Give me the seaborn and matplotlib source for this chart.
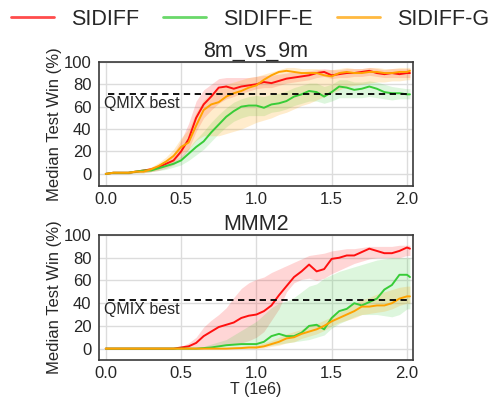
import matplotlib
matplotlib.use("Agg")
import matplotlib.pyplot as plt
import seaborn as sns
import pandas as pd
from matplotlib.lines import Line2D

# ---------------- data ----------------
T = [0.0, 0.05, 0.1, 0.15, 0.2, 0.25, 0.3, 0.35, 0.4, 0.45, 0.5, 0.55, 0.6, 0.65,
     0.7, 0.75, 0.8, 0.85, 0.9, 0.95, 1.0, 1.05, 1.1, 1.15, 1.2, 1.25, 1.3, 1.35,
     1.4, 1.45, 1.5, 1.55, 1.6, 1.65, 1.7, 1.75, 1.8, 1.85, 1.9, 1.95, 2.0, 2.02]

methods = ["SIDIFF", "SIDIFF-E", "SIDIFF-G"]
maps = ["8m_vs_9m", "MMM2"]
qmix_best = [71, 43]

# 8m_vs_9m
sidiff_8m = [0, 1, 1, 1, 2, 3, 4, 6, 9, 12, 20, 31, 50, 62, 69, 77, 78, 76, 78, 79, 80, 82, 81, 83,
             85, 86, 87, 88, 90, 91, 88, 89, 90, 90, 91, 92, 90, 89, 90, 89, 90, 90]
sidiff_8m_lo = [0, 0, 0, 0, 1, 1, 2, 3, 5, 8, 13, 22, 38, 50, 57, 63, 67, 69, 72, 74, 76, 77, 77, 79,
                81, 82, 83, 84, 86, 87, 85, 86, 86, 87, 87, 88, 87, 86, 86, 86, 86, 86]
sidiff_8m_hi = [1, 2, 2, 2, 3, 4, 6, 8, 12, 18, 30, 45, 65, 75, 80, 85, 86, 86, 86, 86, 87, 88, 88, 89,
                90, 91, 91, 92, 93, 94, 93, 93, 94, 94, 94, 95, 94, 93, 94, 94, 94, 94]

sidiffE_8m = [0, 1, 1, 1, 2, 3, 3, 5, 7, 9, 12, 18, 24, 29, 37, 44, 51, 56, 60, 61, 61, 59, 62, 63,
              65, 69, 71, 74, 73, 69, 73, 78, 77, 75, 76, 78, 76, 73, 72, 72, 71, 71]
sidiffE_8m_lo = [0, 0, 0, 0, 1, 1, 2, 3, 4, 6, 8, 12, 17, 22, 29, 36, 42, 47, 50, 52, 52, 52, 55, 56,
                 58, 61, 63, 65, 65, 63, 65, 68, 68, 68, 68, 69, 68, 67, 66, 67, 67, 67]
sidiffE_8m_hi = [1, 2, 2, 2, 3, 4, 5, 7, 9, 12, 16, 23, 31, 38, 46, 53, 59, 64, 67, 69, 70, 69, 71, 72,
                 74, 77, 79, 81, 81, 78, 80, 84, 84, 82, 82, 83, 82, 80, 78, 77, 76, 76]

sidiffG_8m = [0, 1, 1, 1, 2, 2, 4, 7, 11, 16, 24, 28, 43, 57, 62, 64, 69, 72, 74, 77, 79, 84, 88, 91,
              92, 91, 90, 90, 90, 88, 87, 90, 91, 90, 90, 91, 91, 90, 90, 91, 91, 92]
sidiffG_8m_lo = [0, 0, 0, 0, 1, 1, 2, 4, 7, 11, 18, 22, 30, 34, 34, 34, 36, 38, 40, 43, 46, 48, 50, 53,
                 55, 58, 61, 63, 66, 69, 72, 75, 78, 79, 80, 81, 82, 82, 83, 83, 84, 84]
sidiffG_8m_hi = [1, 2, 2, 2, 3, 4, 6, 10, 15, 22, 32, 40, 55, 66, 72, 76, 80, 82, 84, 86, 87, 89, 91, 93,
                 95, 95, 94, 94, 94, 93, 93, 94, 95, 94, 94, 95, 95, 94, 94, 95, 95, 95]

# MMM2
sidiff_mmm = [0, 0, 0, 0, 0, 0, 0, 0, 0, 0, 1, 2, 5, 11, 15, 19, 21, 23, 27, 29, 30, 33, 38, 47,
              55, 63, 68, 74, 68, 70, 79, 80, 82, 82, 85, 88, 86, 84, 84, 86, 89, 88]
sidiff_mmm_lo = [0, 0, 0, 0, 0, 0, 0, 0, 0, 0, 0, 0, 1, 2, 2, 3, 3, 4, 5, 7, 10, 15, 25, 35,
                 50, 58, 61, 62, 60, 62, 66, 69, 72, 75, 77, 79, 80, 80, 80, 80, 82, 82]
sidiff_mmm_hi = [0, 0, 0, 0, 0, 0, 0, 0, 0.5, 1, 2, 5, 10, 19, 25, 30, 36, 45, 53, 58, 61, 63, 67, 70,
                 73, 76, 79, 82, 83, 84, 86, 87, 88, 88, 89, 90, 90, 90, 90, 91, 91, 91]

sidiffE_mmm = [0, 0, 0, 0, 0, 0, 0, 0, 0, 0, 0, 0, 0, 0.5, 1, 2, 3, 3.5, 4, 4, 4, 6, 11, 13,
               11, 11, 14, 20, 21, 17, 27, 33, 35, 40, 38, 41, 44, 52, 56, 65, 65, 63]
sidiffE_mmm_lo = [0, 0, 0, 0, 0, 0, 0, 0, 0, 0, 0, 0, 0, 0, 0, 0, 0.5, 1, 1, 1, 1, 2, 3, 4,
                  5, 6, 7, 8, 10, 12, 18, 22, 25, 28, 30, 30, 30, 29, 28, 30, 35, 35]
sidiffE_mmm_hi = [0, 0, 0, 0, 0, 0, 0, 0, 0, 0, 0, 0, 1, 2, 4, 6, 8, 12, 16, 20, 24, 30, 36, 40,
                  42, 45, 50, 55, 57, 62, 65, 68, 70, 72, 74, 76, 78, 79, 80, 80, 80, 80]

sidiffG_mmm = [0, 0, 0, 0, 0, 0, 0, 0, 0, 0, 0, 0, 0, 0, 0, 0, 0, 0.3, 0.5, 1, 1, 2, 4, 6,
               9, 10, 13, 15, 17, 20, 24, 27, 30, 33, 37, 37, 38, 38, 40, 44, 46, 46]
sidiffG_mmm_lo = [0, 0, 0, 0, 0, 0, 0, 0, 0, 0, 0, 0, 0, 0, 0, 0, 0, 0, 0, 0, 0, 0.5, 2, 3,
                  5, 6, 9, 11, 13, 16, 20, 23, 25, 27, 30, 31, 32, 33, 35, 38, 40, 40]
sidiffG_mmm_hi = [0, 0, 0, 0, 0, 0, 0, 0, 0, 0, 0, 0, 0, 0, 0, 0, 0.5, 1, 2, 2.5, 3, 5, 7, 10,
                  13, 15, 17, 20, 22, 25, 28, 32, 35, 40, 43, 45, 48, 50, 52, 54, 55, 55]

medians = {
    "8m_vs_9m": [sidiff_8m, sidiffE_8m, sidiffG_8m],
    "MMM2": [sidiff_mmm, sidiffE_mmm, sidiffG_mmm],
}
lows = {
    "8m_vs_9m": [sidiff_8m_lo, sidiffE_8m_lo, sidiffG_8m_lo],
    "MMM2": [sidiff_mmm_lo, sidiffE_mmm_lo, sidiffG_mmm_lo],
}
highs = {
    "8m_vs_9m": [sidiff_8m_hi, sidiffE_8m_hi, sidiffG_8m_hi],
    "MMM2": [sidiff_mmm_hi, sidiffE_mmm_hi, sidiffG_mmm_hi],
}

colors = ["#ff1010", "#38cc38", "#ffa200"]
band_alpha = [0.17, 0.17, 0.2]

# ---------------- style ----------------
sns.set_theme(style="white")
plt.rcParams["font.family"] = ["Liberation Sans", "DejaVu Sans"]
plt.rcParams["text.color"] = "#262626"
plt.rcParams["axes.labelcolor"] = "#262626"
plt.rcParams["xtick.color"] = "#262626"
plt.rcParams["ytick.color"] = "#262626"

fig = plt.figure(figsize=(4.94, 3.98), dpi=100)
ax1 = fig.add_axes([0.2004, 0.533, 0.6356, 0.3116])
ax2 = fig.add_axes([0.2004, 0.0955, 0.6356, 0.314])
axes = [ax1, ax2]
ylims = [(-10.7, 100), (-10, 100)]

for ax, m, q, yl in zip(axes, maps, qmix_best, ylims):
    ax.grid(True, color="#dcdcdc", linewidth=1.0, zorder=0)
    ax.set_axisbelow(True)
    for meth, c, a, med, lo, hi in zip(methods, colors, band_alpha,
                                       medians[m], lows[m], highs[m]):
        ax.fill_between(T, lo, hi, color=c, alpha=a, linewidth=0, zorder=1)
        df = pd.DataFrame({"T": T, "win": med})
        sns.lineplot(data=df, x="T", y="win", ax=ax, color=c, linewidth=1.4,
                     zorder=3, legend=False)
    ax.axhline(q, xmin=0.03, xmax=0.985, color="black", linestyle="--",
               linewidth=1.3, dashes=(3.5, 2.5), zorder=4)
    ax.annotate("QMIX best", xy=(0.0, q), xytext=(-1, -1.5), textcoords="offset points",
                ha="left", va="top", fontsize=11.5, color="#262626")
    ax.set_xlim(-0.045, 2.04)
    ax.set_ylim(*yl)
    ax.set_xticks([0.0, 0.5, 1.0, 1.5, 2.0])
    ax.set_xticklabels(["0.0", "0.5", "1.0", "1.5", "2.0"])
    ax.set_yticks([0, 20, 40, 60, 80, 100])
    ax.tick_params(axis="y", labelsize=12, length=0, pad=5.5)
    ax.tick_params(axis="x", labelsize=12, length=0, pad=4.5)
    ax.set_title(m, fontsize=15.5, pad=3.5)
    ax.set_ylabel("Median Test Win (%)", fontsize=12, labelpad=1)
    for s in ax.spines.values():
        s.set_color("#3a3a3a")
        s.set_linewidth(1.2)

ax1.set_xlabel("")
ax2.set_xlabel("T (1e6)", fontsize=11.5, labelpad=0.5)

handles = [Line2D([0], [0], color=c, linewidth=2, alpha=0.75) for c in colors]
fig.legend(handles, methods, loc="center", bbox_to_anchor=(0.506, 0.952),
           ncol=3, frameon=False, fontsize=15.5, handlelength=2.0,
           handletextpad=0.8, columnspacing=1.1)

fig.savefig("out.png", dpi=100)
